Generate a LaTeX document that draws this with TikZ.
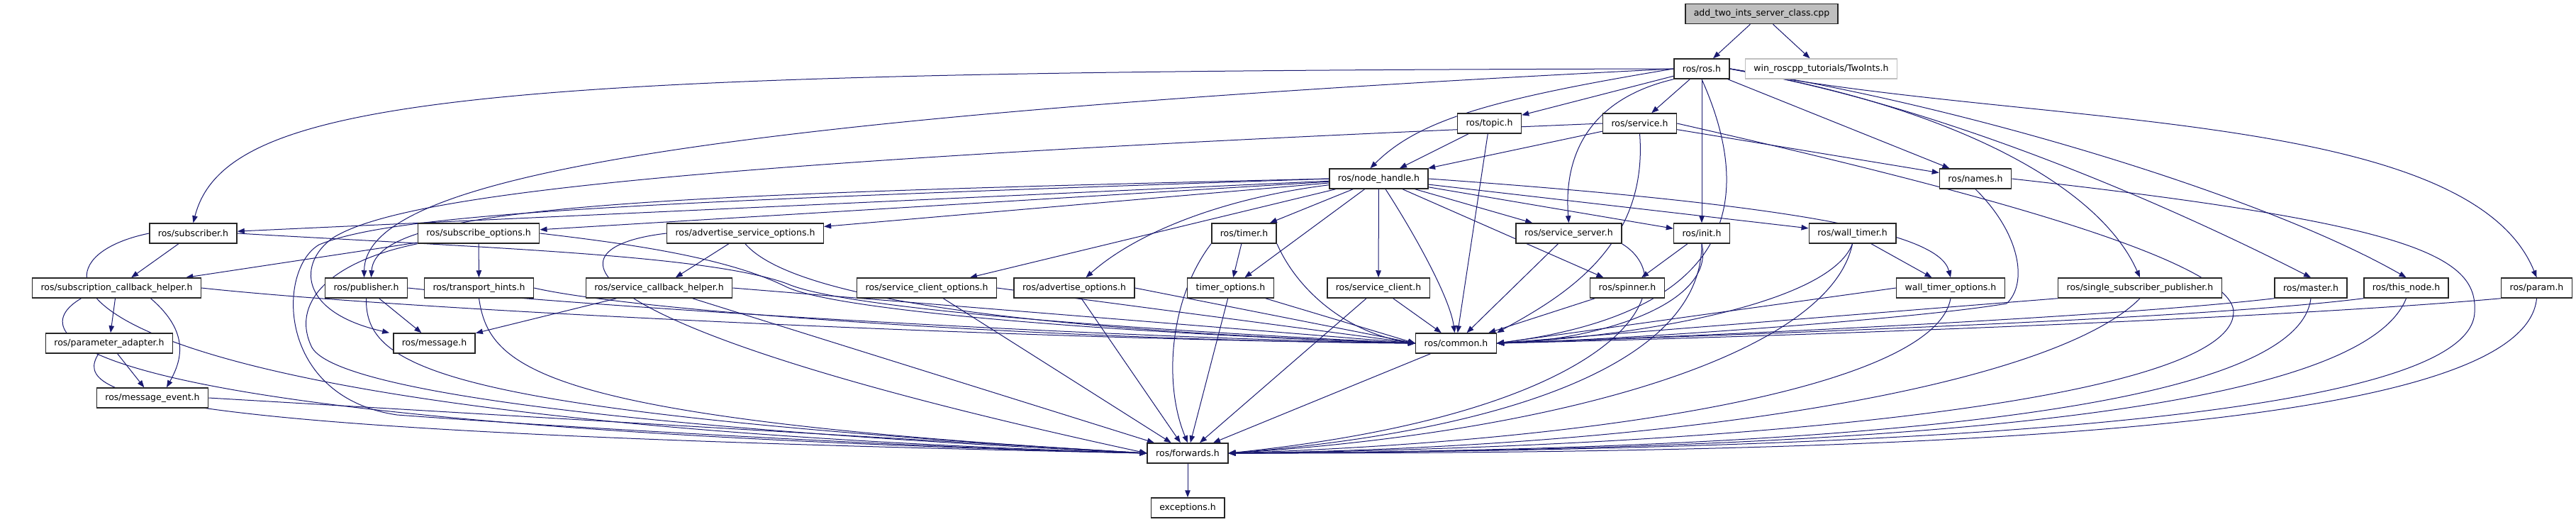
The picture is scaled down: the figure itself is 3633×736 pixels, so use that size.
\documentclass[tikz,border=0pt]{standalone}
\usepackage{fontspec}
\setmainfont{DejaVu Sans}
\usepackage{xcolor}
\usepackage{tikz}
\usetikzlibrary{arrows.meta,backgrounds}
\definecolor{edgeblue}{HTML}{191970}
\definecolor{hdrgrey}{HTML}{BFBFBF}

\begin{document}
\begin{tikzpicture}[x=1pt,y=1pt,yscale=-1,xscale=1,
  hdr/.style={draw=black!85,line width=1.5pt,fill=white,inner xsep=12pt,inner ysep=0pt,minimum height=28pt,font=\fontsize{12.5}{15}\selectfont},
  hdrmain/.style={hdr,fill=hdrgrey},
  hdrext/.style={hdr,draw=hdrgrey},
  inc/.style={draw=edgeblue,line width=1pt,-{Triangle[length=10pt,width=7.5pt]}}]
\useasboundingbox (0,0) rectangle (3633,736);

\node[hdrmain] (cpp) at (2484.5,19.5) {add\_two\_ints\_server\_class.cpp};
\node[hdr] (rosh) at (2400,97) {ros/ros.h};
\node[hdrext] (twoints) at (2568.5,97) {win\_roscpp\_tutorials/TwoInts.h};

\node[hdr] (topic) at (2100.5,174) {ros/topic.h};
\node[hdr] (service) at (2312.5,174) {ros/service.h};
\node[hdr] (nodehandle) at (1944.5,252) {ros/node\_handle.h};
\node[hdr] (names) at (2786,252) {ros/names.h};

\node[hdr] (subscriber) at (272.5,329) {ros/subscriber.h};
\node[hdr] (subopts) at (675,329) {ros/subscribe\_options.h};
\node[hdr] (advsrvopts) at (1051,329) {ros/advertise\_service\_options.h};
\node[hdr] (timer) at (1754.5,329) {ros/timer.h};
\node[hdr] (srvserver) at (2212.5,329) {ros/service\_server.h};
\node[hdr] (init) at (2400,329) {ros/init.h};
\node[hdr] (walltimer) at (2612.5,329) {ros/wall\_timer.h};

\node[hdr] (subcbhelper) at (164.5,406) {ros/subscription\_callback\_helper.h};
\node[hdr] (publisher) at (516.5,406) {ros/publisher.h};
\node[hdr] (transhints) at (675.5,406) {ros/transport\_hints.h};
\node[hdr] (srvcbhelper) at (929.5,406) {ros/service\_callback\_helper.h};
\node[hdr] (srvclientopts) at (1307,406) {ros/service\_client\_options.h};
\node[hdr] (advopts) at (1515,406) {ros/advertise\_options.h};
\node[hdr] (timeropts) at (1735.5,406) {timer\_options.h};
\node[hdr] (srvclient) at (1944,406) {ros/service\_client.h};
\node[hdr] (spinner) at (2295,406) {ros/spinner.h};
\node[hdr] (walltimeropts) at (2751,406) {wall\_timer\_options.h};
\node[hdr] (singlesubpub) at (3018,406) {ros/single\_subscriber\_publisher.h};
\node[hdr] (master) at (3259,406) {ros/master.h};
\node[hdr] (thisnode) at (3393.5,406) {ros/this\_node.h};
\node[hdr] (param) at (3577.5,406) {ros/param.h};

\node[hdr] (paramadapter) at (154,484) {ros/parameter\_adapter.h};
\node[hdr] (message) at (612.5,484) {ros/message.h};
\node[hdr] (common) at (2053.5,484) {ros/common.h};
\node[hdr] (msgevent) at (215,561) {ros/message\_event.h};
\node[hdr] (forwards) at (1675,639) {ros/forwards.h};
\node[hdr] (exceptions) at (1675,716) {exceptions.h};

\begin{pgfonlayer}{background}
\draw[inc] (cpp) -- (rosh);
\draw[inc] (cpp) -- (twoints);

\draw[inc] (rosh.west) .. controls (700,100) and (320,130) .. (subscriber.north);
\draw[inc] (rosh.west) .. controls (900,170) and (515,260) .. ([xshift=-3pt]publisher.north);
\draw[inc] (rosh.west) .. controls (2100,140) and (2000,170) .. ([xshift=-12pt]nodehandle.north);
\draw[inc] (rosh) -- (topic);
\draw[inc] (rosh) -- (service);
\draw[inc] (rosh) -- (names);
\draw[inc] (rosh.south west) .. controls (2240,140) and (2205,220) .. (srvserver.north);
\draw[inc] (rosh) -- (init);
\draw[inc] (rosh.south) .. controls (2475,280) and (2450,440) .. (common.east);
\draw[inc] (rosh.east) .. controls (2750,150) and (2960,260) .. (singlesubpub.north);
\draw[inc] (rosh.east) .. controls (2750,150) and (3080,300) .. (master.north);
\draw[inc] (rosh.east) .. controls (2780,150) and (3200,280) .. (thisnode.north);
\draw[inc] (rosh.east) .. controls (2850,180) and (3480,150) .. (param.north);

\draw[inc] (topic) -- (nodehandle);
\draw[inc] (topic) -- (common);

\draw[inc] (service) -- (nodehandle);
\draw[inc] (service) -- (names);
\draw[inc] (service.west) .. controls (900,230) and (560,280) .. (470,335) .. controls (420,370) and (420,440) .. ([xshift=-5pt]message.north west);
\draw[inc] (service.south) .. controls (2325,350) and (2200,420) .. (common.north east);
\draw[inc] (service.east) .. controls (2700,250) and (3150,360) .. (3150,440) .. controls (3150,560) and (2500,630) .. (forwards.east);

\draw[inc] (nodehandle) -- (subscriber);
\draw[inc] (nodehandle) -- (subopts);
\draw[inc] (nodehandle) -- (advsrvopts);
\draw[inc] (nodehandle.west) .. controls (900,275) and (530,290) .. ([xshift=7pt]publisher.north);
\draw[inc] (nodehandle.west) .. controls (900,285) and (560,300) .. (450,345) .. controls (390,380) and (390,560) .. (560,585) .. controls (900,610) and (1400,635) .. (forwards.west);
\draw[inc] (nodehandle) -- (srvclientopts);
\draw[inc] (nodehandle) .. controls (1720,280) and (1600,330) .. (advopts);
\draw[inc] (nodehandle) -- (timer);
\draw[inc] (nodehandle) -- (timeropts);
\draw[inc] (nodehandle) -- (srvclient);
\draw[inc] (nodehandle) .. controls (1995,330) and (2045,420) .. (common);
\draw[inc] (nodehandle) -- (srvserver);
\draw[inc] (nodehandle) -- (spinner);
\draw[inc] (nodehandle) -- (init);
\draw[inc] (nodehandle) -- (walltimer);
\draw[inc] (nodehandle.east) .. controls (2550,290) and (2735,330) .. (walltimeropts.north);

\draw[inc] (subscriber) -- (subcbhelper);
\draw[inc] (subscriber.east) .. controls (700,350) and (1000,360) .. (1110,400) .. controls (1200,440) and (1700,470) .. (common.west);
\draw[inc] (subscriber.west) .. controls (10,370) and (30,590) .. (forwards.west);

\draw[inc] (subopts) -- (subcbhelper);
\draw[inc] (subopts) -- (transhints);
\draw[inc] (subopts.east) .. controls (900,345) and (1030,365) .. (1110,405) .. controls (1200,445) and (1700,475) .. (common.west);
\draw[inc] (subopts.south west) .. controls (460,370) and (410,430) .. (440,490) .. controls (480,560) and (1000,610) .. (forwards.west);

\draw[inc] (advsrvopts) -- (srvcbhelper);
\draw[inc] (advsrvopts.south) .. controls (1100,400) and (1300,460) .. (common.west);
\draw[inc] (advsrvopts.west) .. controls (760,350) and (790,460) .. (forwards.west);

\draw[inc] (timer) -- (timeropts);
\draw[inc] (timer.south east) .. controls (1830,410) and (1900,470) .. (common.west);
\draw[inc] (timer.south west) .. controls (1650,420) and (1640,540) .. (forwards.north);

\draw[inc] (srvserver) -- (common);
\draw[inc] (srvserver.south east) .. controls (2380,400) and (2300,580) .. (forwards.east);

\draw[inc] (init) -- (spinner);
\draw[inc] (init.south) .. controls (2420,430) and (2250,480) .. (common.east);
\draw[inc] (init.south) .. controls (2400,520) and (2100,610) .. (forwards.east);

\draw[inc] (walltimer) -- (walltimeropts);
\draw[inc] (walltimer.south) .. controls (2580,430) and (2300,475) .. (common.east);
\draw[inc] (walltimer.south) .. controls (2580,500) and (2200,610) .. (forwards.east);

\draw[inc] (names.south) .. controls (2850,330) and (2860,400) .. (2830,428) .. controls (2700,450) and (2300,478) .. (common.east);
\draw[inc] (names.east) .. controls (3400,315) and (3495,360) .. (3490,440) .. controls (3485,600) and (2600,635) .. (forwards.east);

\draw[inc] (subcbhelper) -- (paramadapter);
\draw[inc] ([xshift=48pt]subcbhelper.south) .. controls (270,470) and (255,510) .. ([xshift=20pt]msgevent.north);
\draw[inc] (subcbhelper.east) .. controls (600,440) and (1500,480) .. (common.west);
\draw[inc] ([xshift=-50pt]subcbhelper.south) .. controls (30,470) and (60,600) .. (forwards.west);

\draw[inc] (publisher) -- (message);
\draw[inc] (publisher.east) .. controls (800,430) and (1500,475) .. (common.west);
\draw[inc] (publisher.south) .. controls (515,520) and (620,580) .. (forwards.west);

\draw[inc] (transhints.east) .. controls (900,440) and (1500,480) .. (common.west);
\draw[inc] (transhints.south) .. controls (690,520) and (760,590) .. (forwards.west);

\draw[inc] (srvcbhelper) -- (message);
\draw[inc] (srvcbhelper.east) -- (common.west);
\draw[inc] (srvcbhelper) -- (forwards);

\draw[inc] (srvclientopts.east) -- (common.west);
\draw[inc] (srvclientopts) -- (forwards);
\draw[inc] (advopts.east) -- (common.west);
\draw[inc] (advopts) -- (forwards);
\draw[inc] (timeropts) -- (common.west);
\draw[inc] (timeropts) -- (forwards);
\draw[inc] (srvclient) -- (common);
\draw[inc] (srvclient) -- (forwards);
\draw[inc] (spinner) -- (common);

\draw[inc] (walltimeropts.west) -- (common.east);
\draw[inc] (walltimeropts.south) .. controls (2730,540) and (2300,620) .. (forwards.east);
\draw[inc] (singlesubpub.south west) -- (common.east);
\draw[inc] (singlesubpub.south) .. controls (2900,540) and (2400,630) .. (forwards.east);
\draw[inc] (master.south west) .. controls (3000,445) and (2500,470) .. (common.east);
\draw[inc] (master.south) .. controls (3240,580) and (2600,635) .. (forwards.east);
\draw[inc] (thisnode.south west) .. controls (3100,450) and (2500,470) .. (common.east);
\draw[inc] (thisnode.south) .. controls (3330,580) and (2700,635) .. (forwards.east);
\draw[inc] (param.south west) .. controls (3200,450) and (2500,475) .. (common.east);
\draw[inc] (param.south) .. controls (3560,600) and (2800,640) .. (forwards.east);

\draw[inc] (paramadapter) -- (msgevent);
\draw[inc] ([xshift=-15pt]paramadapter.south) .. controls (100,560) and (200,610) .. (forwards.west);
\draw[inc] (msgevent.east) -- (forwards.west);

\draw[inc] (common) -- (forwards);
\draw[inc] (forwards) -- (exceptions);
\end{pgfonlayer}
\end{tikzpicture}
\end{document}
